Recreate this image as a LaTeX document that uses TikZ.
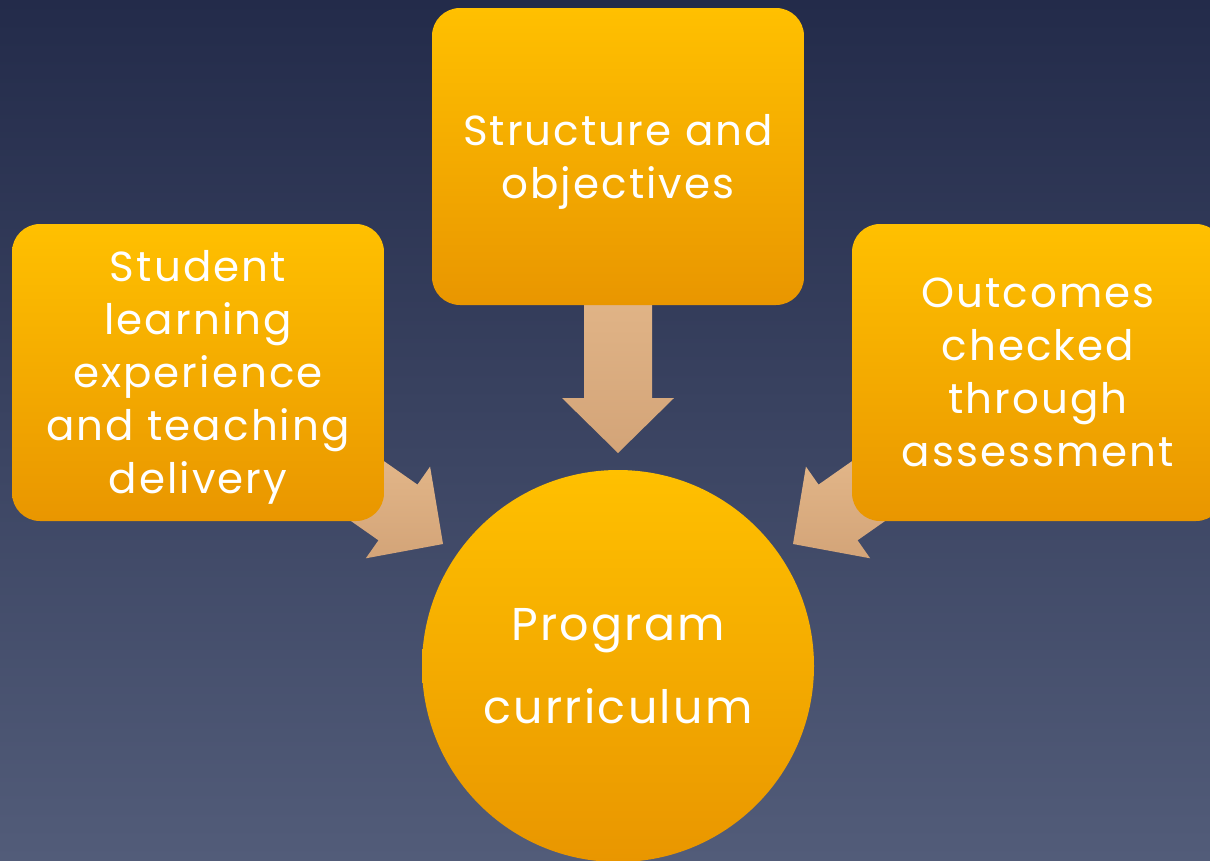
\documentclass[tikz,border=0pt]{standalone}
\usepackage{fontspec}
\setmainfont{Poppins}[LetterSpace=5]
\usetikzlibrary{calc}
\definecolor{bgtop}{RGB}{35,43,74}
\definecolor{bgbot}{RGB}{82,92,121}
\definecolor{boxtop}{RGB}{255,192,0}
\definecolor{boxbot}{RGB}{233,150,0}
\definecolor{arrtop}{RGB}{233,190,144}
\definecolor{arrbot}{RGB}{211,164,120}
\tikzset{
  orangebox/.style={rectangle, rounded corners=28pt, minimum width=372pt, minimum height=297pt,
    inner sep=0pt, top color=boxtop, bottom color=boxbot, draw=none},
  boxtext/.style={text=white, align=center, inner sep=0pt, font=\fontsize{42}{53}\selectfont},
  orangecirc/.style={circle, minimum size=392pt, inner sep=0pt, top color=boxtop, bottom color=boxbot,
    draw=none, text=white, align=center, font=\fontsize{46}{83}\selectfont},
  arrowfill/.style={top color=arrtop, bottom color=arrbot, draw=none}
}
\newcommand\blockarrow[2]{%
  \coordinate (hb) at ($(#2)!55pt!(#1)$);
  \path[arrowfill] ($(#1)!34pt!-90:(#2)$) -- ($(hb)!34pt!-90:(#2)$) -- ($(hb)!56pt!-90:(#2)$)
    -- (#2) -- ($(hb)!56pt!90:(#2)$) -- ($(hb)!34pt!90:(#2)$) -- ($(#1)!34pt!90:(#2)$) -- cycle;}
\begin{document}
\begin{tikzpicture}[x=1pt,y=-1pt]
\useasboundingbox (0,0) rectangle (1210,860);
\clip (0,0) rectangle (1210,860);
\fill[top color=bgtop, bottom color=bgbot] (0,0) rectangle (1210,860);
% arrows (drawn under the boxes)
\coordinate (ds) at (618,200);
\coordinate (dt) at (618,453);
\coordinate (ls) at (296,441);
\coordinate (lt) at (443,544);
\coordinate (rs) at (940,441);
\coordinate (rt) at (793,544);
\blockarrow{ds}{dt}
\blockarrow{ls}{lt}
\blockarrow{rs}{rt}
% boxes
\node[orangebox] (top) at (618,156.5) {};
\node[orangebox] (left) at (198,372.5) {};
\node[orangebox] (right) at (1038,372.5) {};
\node[boxtext] (toptext) at ($(top.center)+(0,5)$) {Structure and\\objectives};
\node[boxtext] (lefttext) at ($(left.center)+(0,5)$) {Student\\learning\\experience\\and teaching\\delivery};
\node[boxtext] (righttext) at ($(right.center)+(0,0)$) {Outcomes\\checked\\through\\assessment};
\node[orangecirc] (prog) at (618,666) {Program\\curriculum};
\end{tikzpicture}
\end{document}
